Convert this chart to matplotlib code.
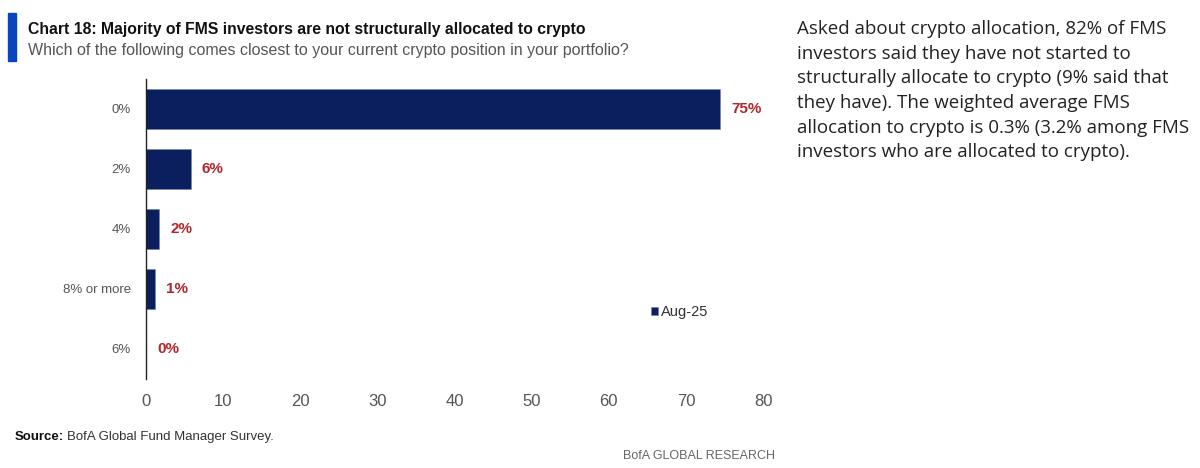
import matplotlib
matplotlib.use('Agg')
from matplotlib import pyplot as plt
from matplotlib.patches import Rectangle

# chart data
categories = ['0%', '2%', '4%', '8% or more', '6%']
shares = [74.4, 5.8, 1.7, 1.2, 0.0]
share_labels = ['75%', '6%', '2%', '1%', '0%']
x_ticks = [0, 10, 20, 30, 40, 50, 60, 70, 80]
series_name = 'Aug-25'

navy = '#0b1f5e'
red = '#b3262d'
grey = '#555555'
narrow = ['Liberation Sans', 'DejaVu Sans']


def main():
    fig = plt.figure(figsize=(12, 4.68), dpi=100)
    ax = fig.add_axes([0.1217, 0.1902, 0.5142, 0.641])

    pos = list(range(len(categories)))
    bars = ax.barh(pos, shares, height=0.66, color=navy, edgecolor='#6f86b5',
                   linewidth=0.4, label=series_name)
    ax.set_ylim(len(categories) - 0.5, -0.5)
    ax.set_xlim(0, 80)
    ax.set_yticks(pos)
    ax.set_yticklabels(categories, family=narrow, fontsize=9.5, color=grey)
    ax.set_xticks(x_ticks)
    ax.set_xticklabels([str(t) for t in x_ticks], family=narrow, fontsize=12, color=grey)
    ax.tick_params(axis='y', length=0, pad=11)
    ax.tick_params(axis='x', length=0, pad=11)
    for side in ['top', 'right', 'bottom']:
        ax.spines[side].set_visible(False)
    ax.spines['left'].set_color('#222222')
    ax.spines['left'].set_linewidth(1.0)

    # value labels next to the bars
    for bar, txt in zip(bars, share_labels):
        ax.annotate(txt, (bar.get_width(), bar.get_y() + bar.get_height() / 2),
                    xytext=(11, 0), textcoords='offset pixels', va='center', ha='left',
                    color=red, fontweight='bold', fontsize=11, family=narrow)

    leg = ax.legend(loc='center left', bbox_to_anchor=(0.797, 0.223), frameon=False,
                    handlelength=0.5, handleheight=0.5, handletextpad=0.2,
                    prop={'family': narrow, 'size': 10.5})
    for t in leg.get_texts():
        t.set_color('#333333')

    # header
    fig.patches.append(Rectangle((8 / 1200, 1 - 61 / 468), 8 / 1200, 48 / 468,
                                 transform=fig.transFigure, color='#0a45c0'))
    fig.text(28 / 1200, 1 - 34 / 468, 'Chart 18: Majority of FMS investors are not structurally allocated to crypto',
             family=narrow, fontweight='bold', fontsize=11.3, color='#111111', va='baseline')
    fig.text(28 / 1200, 1 - 55 / 468, 'Which of the following comes closest to your current crypto position in your portfolio?',
             family=narrow, fontsize=11.5, color=grey, va='baseline')

    # footer
    src = fig.text(15 / 1200, 1 - 443 / 468, 'Source:', family=narrow, fontweight='bold',
                   fontsize=9.5, color='#111111', va='bottom')
    ax.annotate('BofA Global Fund Manager Survey.', xy=(1, 0), xycoords=src,
                xytext=(3, 0), textcoords='offset pixels', va='bottom', ha='left',
                family=narrow, fontsize=9.5, color='#333333', annotation_clip=False)
    fig.text(775 / 1200, 1 - 456 / 468, 'BofA GLOBAL RESEARCH', family=narrow,
             fontsize=9, color='#666666', va='center', ha='right')

    # commentary on the right
    note = ('Asked about crypto allocation, 82% of FMS\n'
            'investors said they have not started to\n'
            'structurally allocate to crypto (9% said that\n'
            'they have). The weighted average FMS\n'
            'allocation to crypto is 0.3% (3.2% among FMS\n'
            'investors who are allocated to crypto).')
    fig.text(797 / 1200, 1 - 20 / 468, note, family=['Open Sans', 'DejaVu Sans'],
             fontsize=13.5, color='#222222', va='top', ha='left',
             linespacing=1.475, multialignment='left')

    fig.savefig('out.png', dpi=100)


if __name__ == '__main__':
    main()
